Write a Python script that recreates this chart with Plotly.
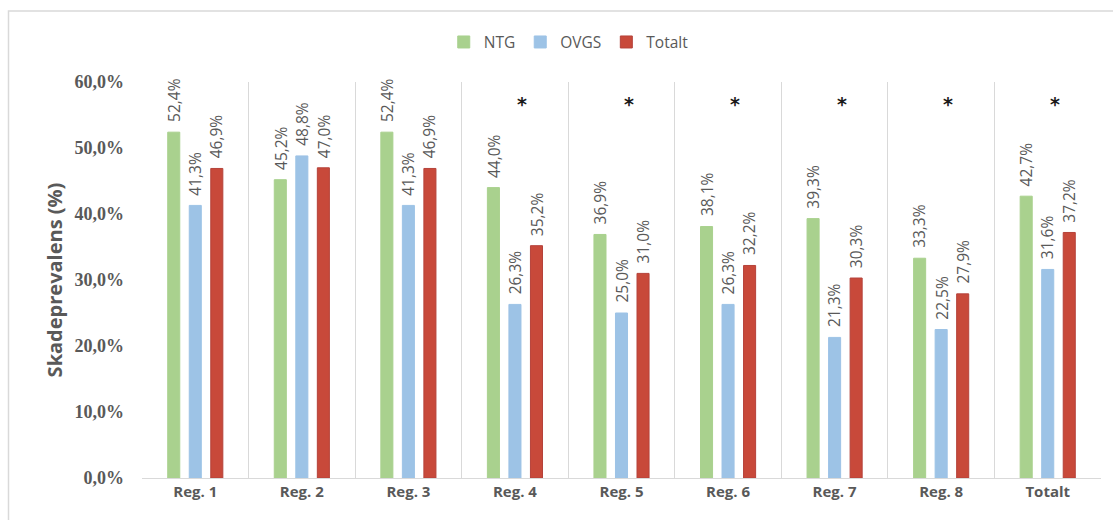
import plotly.graph_objects as go

# Injury prevalence per region and school type
categories = ["Reg. 1", "Reg. 2", "Reg. 3", "Reg. 4", "Reg. 5", "Reg. 6", "Reg. 7", "Reg. 8", "Totalt"]
ntg = [52.4, 45.2, 52.4, 44.0, 36.9, 38.1, 39.3, 33.3, 42.7]
ovgs = [41.3, 48.8, 41.3, 26.3, 25.0, 26.3, 21.3, 22.5, 31.6]
totalt = [46.9, 47.0, 46.9, 35.2, 31.0, 32.2, 30.3, 27.9, 37.2]
# Categories with a significant NTG/OVGS difference
significant = ["Reg. 4", "Reg. 5", "Reg. 6", "Reg. 7", "Reg. 8", "Totalt"]
star_level = 56.6

series = [
    ("NTG", ntg, "#A9D18E", "#A9D18E"),
    ("OVGS", ovgs, "#9DC3E6", "#9DC3E6"),
    ("Totalt", totalt, "#C8493A", "#B5423A"),
]

W, H = 1113, 520
ml, mr, mt, mb = 142, 12, 82, 42
plot_w = W - ml - mr
cat_w = plot_w / len(categories)
bargap = 0.394
slot_px = cat_w * (1 - bargap) / 3

gray = "#595959"
sans = "Open Sans, Lato, sans-serif"
label_font = dict(family=sans, size=15.5, color=gray)

fig = go.Figure()
for name, vals, col, edge in series:
    fig.add_trace(go.Bar(
        name=name, x=categories, y=vals,
        marker=dict(color=col, line=dict(color=edge, width=1)),
        hoverinfo="x+y",
    ))

annotations = []
for si, (name, vals, col, edge) in enumerate(series):
    shift = (si - 1) * slot_px
    for cat, v in zip(categories, vals):
        annotations.append(dict(
            x=cat, y=v, xref="x", yref="y",
            text=f"{v:.1f}%".replace(".", ","),
            textangle=-90, showarrow=False,
            xanchor="center", yanchor="bottom",
            xshift=shift, yshift=8,
            font=label_font,
        ))

for cat in significant:
    annotations.append(dict(
        x=cat, y=star_level, xref="x", yref="y",
        text="*", showarrow=False, xshift=7,
        font=dict(family="DejaVu Sans, sans-serif", size=19, color="#1a1a1a", weight="bold"),
    ))

# Chart frame
frame_x0 = (8.5 - ml) / plot_w
frame_x1 = (W + 20 - ml) / plot_w
plot_h = H - mt - mb
frame_y1 = (H - mb - 11) / plot_h
frame_y0 = (H - mb - (H + 20)) / plot_h

fig.update_layout(
    width=W, height=H,
    margin=dict(l=ml, r=mr, t=mt, b=mb),
    paper_bgcolor="white", plot_bgcolor="white",
    separators=", ",
    barmode="group", bargap=bargap, bargroupgap=0.44,
    showlegend=True,
    legend=dict(
        orientation="h", x=0.445, y=1.10, xanchor="center", yanchor="middle",
        font=dict(family=sans, size=15.5, color=gray),
        itemwidth=30, traceorder="normal",
    ),
    annotations=annotations,
    shapes=[dict(
        type="rect", xref="paper", yref="paper",
        x0=frame_x0, x1=frame_x1, y0=frame_y0, y1=frame_y1,
        line=dict(color="#D9D9D9", width=1.5), fillcolor="rgba(0,0,0,0)",
        layer="below",
    )],
    xaxis=dict(
        type="category", tickson="boundaries",
        showgrid=True, gridcolor="#D9D9D9", gridwidth=1,
        showline=True, linecolor="#D9D9D9", linewidth=1,
        ticks="", ticklen=0,
        tickfont=dict(family=sans, size=15, color=gray, weight="bold"),
    ),
    yaxis=dict(
        range=[0, 60], dtick=10, tickformat=".1f", ticksuffix="%",
        showgrid=False, zeroline=False, showline=False,
        ticks="", ticklabelstandoff=17,
        tickfont=dict(family="Liberation Serif, serif", size=18, color=gray, weight="bold"),
        title=dict(text="Skadeprevalens (%)", standoff=6,
                   font=dict(family=sans, size=20, color=gray, weight="bold")),
    ),
)

fig.write_html("out.html")
